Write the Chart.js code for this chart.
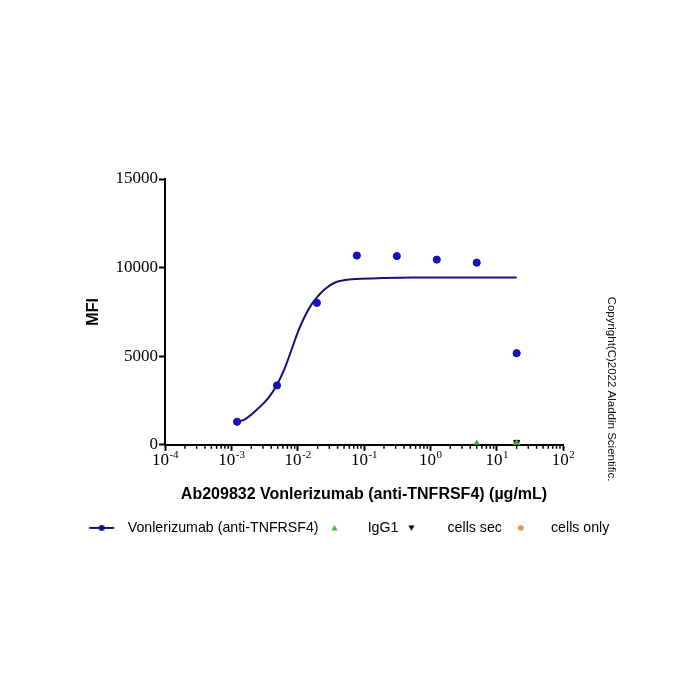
<!DOCTYPE html>
<html>
<head>
<meta charset="utf-8">
<script src="https://cdn.jsdelivr.net/npm/chart.js@4"></script>
<style>
html,body{margin:0;padding:0;background:#fff;}
#wrap{width:700px;height:700px;}
</style>
</head>
<body>
<div id="wrap"><canvas id="c" width="700" height="700"></canvas></div>
<script>
// ---- data ----
const concentrations = [0.00122, 0.00488, 0.0195, 0.078, 0.3125, 1.25, 5, 20];
const vonlerizumabMFI = [1300, 3350, 8010, 10680, 10650, 10450, 10280, 5170];
const fitX = [0.0012, 0.0016, 0.00255, 0.0036, 0.0048, 0.0064, 0.0081, 0.0102, 0.0129, 0.0163, 0.0205, 0.0258, 0.0366, 0.0518, 0.078, 0.19, 0.55, 20];
const fitY = [1290, 1440, 2060, 2630, 3350, 4330, 5380, 6420, 7270, 7940, 8410, 8790, 9160, 9300, 9360, 9410, 9440, 9440];
const igg1X = [5, 20];
const igg1MFI = [60, 80];
const cellsSecX = [20];
const cellsSecMFI = [150];
const cellsOnlyX = [20];
const cellsOnlyMFI = [90];
const legendLabels = ['Vonlerizumab (anti-TNFRSF4)', 'IgG1', 'cells sec', 'cells only'];
const xTickExponents = [-4, -3, -2, -1, 0, 1, 2];
const yTicks = [0, 5000, 10000, 15000];
const xTitle = 'Ab209832 Vonlerizumab (anti-TNFRSF4) (µg/mL)';
const yTitle = 'MFI';
const copyright = 'Copyright(C)2022 Aladdin Scientific.';

const BLUE = '#1212b8';
const NAVY = '#13137a';
const GREEN = '#3cb043';
const BLACK = '#000000';
const ORANGE = '#e8913a';
const SERIF = '"Liberation Serif", "Times New Roman", serif';
const SANS = '"Liberation Sans", Arial, sans-serif';

const pts = (xs, ys) => xs.map((x, i) => ({x: x, y: ys[i]}));

// legend marker images (marker offset inside a wider transparent image)
function markerCanvas(kind, color, dx) {
  const c = document.createElement('canvas');
  c.width = 70; c.height = 10;
  const g = c.getContext('2d');
  g.fillStyle = color; g.strokeStyle = color;
  const cx = 35 + dx, cy = 5;
  if (kind === 'lineCircle') {
    g.lineWidth = 2;
    g.beginPath(); g.moveTo(cx - 12.5, cy); g.lineTo(cx + 12.5, cy); g.stroke();
    g.beginPath(); g.arc(cx, cy, 3, 0, Math.PI * 2); g.fill();
  } else if (kind === 'tri') {
    g.beginPath(); g.moveTo(cx, cy - 3); g.lineTo(cx + 3, cy + 2.5); g.lineTo(cx - 3, cy + 2.5); g.closePath(); g.fill();
  } else if (kind === 'triDown') {
    g.beginPath(); g.moveTo(cx, cy + 3); g.lineTo(cx + 3, cy - 2.5); g.lineTo(cx - 3, cy - 2.5); g.closePath(); g.fill();
  } else {
    g.beginPath(); g.arc(cx, cy, 2.8, 0, Math.PI * 2); g.fill();
  }
  return c;
}
const legendMarkers = [
  markerCanvas('lineCircle', NAVY, -4),
  markerCanvas('tri', GREEN, -11),
  markerCanvas('triDown', BLACK, -14),
  markerCanvas('circle', ORANGE, -8)
];

const copyrightPlugin = {
  id: 'copyrightText',
  afterDraw(chart) {
    const ctx = chart.ctx;
    ctx.save();
    ctx.translate(611, 389);
    ctx.rotate(Math.PI / 2);
    ctx.font = '11.5px ' + SANS;
    ctx.fillStyle = '#111';
    ctx.textAlign = 'center';
    ctx.textBaseline = 'middle';
    ctx.fillText(copyright, 0, 0);
    ctx.restore();
  }
};

// minor log ticks + power-of-ten labels with superscript exponents
const xAxisDecorPlugin = {
  id: 'xAxisDecor',
  afterDraw(chart) {
    const s = chart.scales.x;
    const ctx = chart.ctx;
    ctx.save();
    ctx.strokeStyle = '#000';
    ctx.lineWidth = 1.5;
    for (let k = 0; k < xTickExponents.length - 1; k++) {
      for (let m = 2; m <= 9; m++) {
        const px = s.getPixelForValue(m * Math.pow(10, xTickExponents[k]));
        ctx.beginPath();
        ctx.moveTo(px, s.top);
        ctx.lineTo(px, s.top + 4);
        ctx.stroke();
      }
    }
    ctx.fillStyle = '#000';
    ctx.textBaseline = 'alphabetic';
    ctx.textAlign = 'left';
    const baseFont = '17px ' + SERIF;
    const expFont = '11px ' + SERIF;
    xTickExponents.forEach(e => {
      const px = s.getPixelForValue(Math.pow(10, e));
      ctx.font = baseFont;
      const wb = ctx.measureText('10').width;
      ctx.font = expFont;
      const es = String(e);
      const we = ctx.measureText(es).width;
      const x0 = px - (wb + we) / 2;
      ctx.font = baseFont;
      ctx.fillText('10', x0, s.top + 20);
      ctx.font = expFont;
      ctx.fillText(es, x0 + wb + 0.5, s.top + 13);
    });
    ctx.restore();
  }
};

new Chart(document.getElementById('c'), {
  type: 'scatter',
  data: {
    datasets: [
      { label: 'fit', data: pts(fitX, fitY), showLine: true, borderColor: NAVY, borderWidth: 2,
        pointRadius: 0, cubicInterpolationMode: 'monotone', fill: false, order: 5 },
      { label: legendLabels[0], data: pts(concentrations, vonlerizumabMFI), backgroundColor: BLUE,
        borderColor: BLUE, pointRadius: 3.6, pointStyle: 'circle', order: 4 },
      { label: legendLabels[1], data: pts(igg1X, igg1MFI), backgroundColor: GREEN, borderColor: GREEN,
        pointRadius: 3.5, pointStyle: 'triangle', order: 1 },
      { label: legendLabels[2], data: pts(cellsSecX, cellsSecMFI), backgroundColor: BLACK, borderColor: BLACK,
        pointRadius: 3.5, pointStyle: 'triangle', rotation: 180, order: 2 },
      { label: legendLabels[3], data: pts(cellsOnlyX, cellsOnlyMFI), backgroundColor: ORANGE, borderColor: ORANGE,
        pointRadius: 3, pointStyle: 'circle', order: 3 }
    ]
  },
  options: {
    responsive: false,
    animation: false,
    devicePixelRatio: 1,
    layout: { padding: { top: 179, bottom: 155, left: 0, right: 0 } },
    plugins: {
      tooltip: { enabled: false },
      legend: {
        position: 'bottom',
        labels: {
          usePointStyle: true,
          pointStyleWidth: 30,
          padding: 12,
          color: '#000',
          font: { family: SANS, size: 14.2 },
          generateLabels: () => legendLabels.map((t, i) => ({
            text: t, pointStyle: legendMarkers[i], fillStyle: 'transparent', strokeStyle: 'transparent',
            lineWidth: 0, hidden: false, datasetIndex: i + 1, fontColor: '#000'
          }))
        }
      }
    },
    scales: {
      x: {
        type: 'logarithmic',
        min: 1e-4, max: 1e2,
        afterBuildTicks: s => { s.ticks = xTickExponents.map(e => ({ value: Math.pow(10, e), major: true })); },
        afterFit: s => { s.height = 64; },
        ticks: { display: false },
        grid: { display: true, drawOnChartArea: false, drawTicks: true, tickLength: 6, tickColor: '#000', tickWidth: 2 },
        border: { display: true, color: '#000', width: 2 },
        title: { display: true, text: xTitle, color: '#000', padding: { top: 0, bottom: 5 },
          font: { family: SANS, size: 16, weight: 'bold' } }
      },
      y: {
        type: 'linear', position: 'left',
        min: 0, max: 15000,
        afterBuildTicks: s => { s.ticks = yTicks.map(v => ({ value: v })); },
        afterFit: s => { s.width = 165; },
        ticks: { padding: 1, color: '#000', font: { family: SERIF, size: 17 }, callback: v => String(v) },
        grid: { display: true, drawOnChartArea: false, drawTicks: true, tickLength: 6, tickColor: '#000', tickWidth: 2 },
        border: { display: true, color: '#000', width: 2 },
        title: { display: true, text: yTitle, color: '#000', padding: { top: 84, bottom: 0 },
          font: { family: SANS, size: 16, weight: 'bold' } }
      },
      yRight: {
        type: 'linear', position: 'right', display: true,
        afterFit: s => { s.width = 137; },
        ticks: { display: false },
        grid: { display: false },
        border: { display: false }
      }
    }
  },
  plugins: [copyrightPlugin, xAxisDecorPlugin]
});
</script>
</body>
</html>
